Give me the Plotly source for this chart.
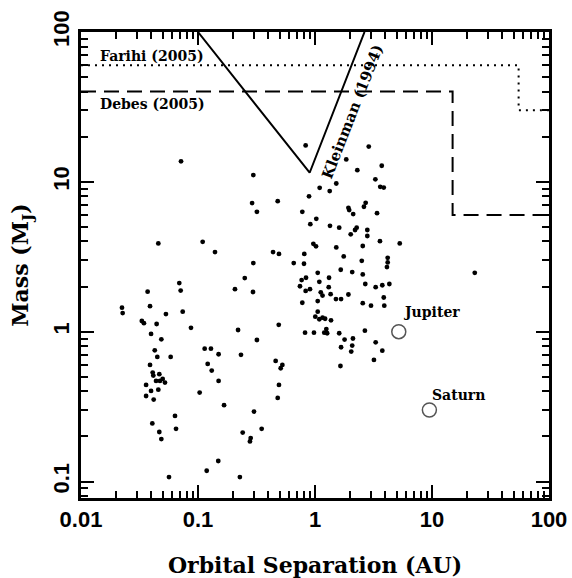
import numpy as np
import plotly.graph_objects as go

# ---- data ----
sep = [0.0716, 0.0458, 0.1096, 0.1397, 0.0692, 0.0371, 0.0711, 0.0224, 0.0389,
       0.0227, 0.0532, 0.0740, 0.0331, 0.0345, 0.0443, 0.0871, 0.0397, 0.0486,
       0.0427, 0.0449, 0.0584, 0.0389, 0.0410, 0.0415, 0.0467, 0.0438, 0.0473,
       0.0499, 0.0522, 0.0360, 0.0458, 0.0397, 0.0360, 0.0418, 0.1033, 0.150,
       0.114, 0.129, 0.121, 0.131, 0.150, 0.167, 0.0636, 0.0649, 0.0407, 0.0467,
       0.0486, 0.149, 0.1187, 0.0565,
       0.832, 1.85, 2.30, 0.297, 1.52, 1.096, 1.336, 0.889, 0.290, 0.480, 0.319,
       0.779, 1.93, 1.96, 2.12, 1.026, 0.912, 1.343, 1.61, 2.27, 2.20, 2.02,
       0.968, 1.02, 1.52, 1.76, 0.438, 0.492, 0.81, 0.297, 0.658, 0.805, 1.66,
       2.08, 0.251, 1.055, 0.769, 0.838, 1.318, 0.744, 1.089, 1.31, 0.906, 0.832,
       0.207, 0.295, 1.12, 1.16, 1.36, 1.51, 1.67, 1.93, 1.055, 0.779,
       0.220, 0.490, 0.319, 0.233, 0.461, 0.526, 0.509, 0.492, 0.480, 0.301,
       0.241, 0.350, 0.282, 0.278, 0.228, 1.055, 1.006, 1.089, 1.16, 1.22, 1.37,
       0.822, 0.98, 1.20, 1.25, 1.27, 1.61, 1.79, 2.11, 1.67, 2.08, 2.04, 1.65,
       2.88, 3.72, 3.28, 3.61, 3.87, 2.71, 2.62, 3.39, 2.80, 2.80, 3.59, 5.30,
       2.56, 2.51, 4.18, 4.18, 4.12, 2.56, 2.69, 3.30, 3.76, 4.32, 3.87, 2.56,
       3.01, 3.91, 23.2,
       2.67, 3.30, 3.76, 3.19]
mass = [13.7, 3.88, 3.98, 3.40, 2.11, 1.85, 1.88, 1.445, 1.48,
        1.33, 1.31, 1.36, 1.18, 1.14, 1.125, 1.06, 0.966, 0.889,
        0.751, 0.678, 0.678, 0.600, 0.533, 0.509, 0.52, 0.469, 0.469,
        0.484, 0.457, 0.441, 0.410, 0.402, 0.372, 0.352, 0.392, 0.707,
        0.770, 0.770, 0.609, 0.550, 0.469, 0.323, 0.274, 0.2245, 0.244, 0.214,
        0.192, 0.137, 0.118, 0.107,
        17.5, 14.1, 11.97, 11.1, 9.75, 9.12, 8.67, 8.0, 7.21, 7.43, 6.31,
        6.31, 6.71, 6.48, 6.09, 5.66, 5.22, 5.09, 4.94, 4.94, 4.77, 4.46,
        3.86, 3.71, 3.65, 3.18, 3.40, 3.30, 3.30, 2.87, 2.87, 2.84, 2.59,
        2.50, 2.28, 2.47, 2.21, 2.29, 2.29, 2.01, 2.15, 1.98, 1.92, 1.87,
        1.92, 1.84, 1.83, 1.74, 1.78, 1.65, 1.65, 1.77, 1.60, 1.56,
        1.026, 1.11, 0.88, 0.70, 0.638, 0.60, 0.570, 0.441, 0.361, 0.293,
        0.212, 0.2245, 0.195, 0.185, 0.107, 1.36, 1.26, 1.21, 1.24, 1.22, 1.19,
        0.985, 0.985, 0.985, 1.04, 0.976, 0.976, 0.885, 0.90, 0.787, 0.807, 0.736, 0.59,
        17.2, 12.8, 10.4, 9.26, 9.16, 7.24, 6.82, 6.18, 4.77, 4.35, 4.02, 3.88,
        3.73, 2.97, 3.11, 2.90, 2.70, 2.41, 2.08, 1.98, 2.04, 2.08, 1.69, 1.55,
        1.49, 1.49, 2.47,
        1.016, 0.849, 0.747, 0.648]

planet_names = ["Jupiter", "Saturn"]
planet_sep = [5.2, 9.5]
planet_mass = [1.0, 0.3]

kleinman_sep = [0.1, 0.9, 2.65]
kleinman_mass = [100, 11.5, 100]
farihi_sep = [0.01, 55, 55, 100]
farihi_mass = [60, 60, 30, 30]
debes_sep = [0.01, 15, 15, 100]
debes_mass = [40, 40, 6, 6]

x_tickvals = [0.01, 0.1, 1, 10, 100]
x_ticktext = ["0.01", "0.1", "1", "10", "100"]
y_tickvals = [0.1, 1, 10, 100]
y_ticktext = ["0.1", "1", "10", "100"]

# ---- figure ----
SERIF = "DejaVu Serif"
SANS = "Liberation Sans"

fig = go.Figure()
fig.add_trace(go.Scatter(x=kleinman_sep, y=kleinman_mass, mode="lines",
                         line=dict(color="black", width=2), showlegend=False))
fig.add_trace(go.Scatter(x=farihi_sep, y=farihi_mass, mode="lines",
                         line=dict(color="black", width=2, dash="2px,5px"), showlegend=False))
fig.add_trace(go.Scatter(x=debes_sep, y=debes_mass, mode="lines",
                         line=dict(color="black", width=2, dash="15px,8px"), showlegend=False))
fig.add_trace(go.Scatter(x=sep, y=mass, mode="markers",
                         marker=dict(size=4.8, color="black"), showlegend=False))
fig.add_trace(go.Scatter(x=planet_sep, y=planet_mass, mode="markers",
                         marker=dict(size=14, color="rgba(0,0,0,0)",
                                     line=dict(color="#555555", width=1.5)),
                         showlegend=False))

lab_font = dict(family=SERIF, size=14, color="black", weight="bold")
ann = [
    dict(x=np.log10(0.0139), y=np.log10(69), text="Farihi (2005)", xanchor="left"),
    dict(x=np.log10(0.0139), y=np.log10(33), text="Debes (2005)", xanchor="left"),
    dict(x=np.log10(2.11), y=np.log10(29.6), text="Kleinman (1994)", xanchor="center",
         textangle=-68.6, font=dict(family=SERIF, size=15, color="black", weight="bold")),
    dict(x=np.log10(planet_sep[0]), y=np.log10(planet_mass[0]), text=planet_names[0],
         xanchor="left", xshift=2, yshift=20),
    dict(x=np.log10(planet_sep[1]), y=np.log10(planet_mass[1]), text=planet_names[1],
         xanchor="left", xshift=1, yshift=15),
]
for a in ann:
    a.setdefault("font", lab_font)
    a.update(xref="x", yref="y", showarrow=False, yanchor="middle")
fig.update_layout(annotations=ann)

def minor_vals(lo, hi):
    v = []
    for e in range(lo, hi):
        for d in range(2, 10):
            v.append(d * 10.0 ** e)
    return v

axis_common = dict(
    type="log", showline=True, linewidth=2.5, linecolor="black", mirror="allticks",
    ticks="inside", ticklen=13, tickwidth=1.5, tickcolor="black",
    showgrid=False, zeroline=False,
    tickfont=dict(family=SANS, size=22, color="black", weight="bold"),
)

fig.update_xaxes(**axis_common, range=[-2, 2], tickmode="array",
                 tickvals=x_tickvals, ticktext=x_ticktext,
                 minor=dict(ticks="inside", ticklen=7, tickwidth=1.5, tickcolor="black",
                            showgrid=False, tickmode="array", tickvals=minor_vals(-2, 2)),
                 title=dict(text="Orbital Separation (AU)", standoff=27,
                            font=dict(family=SERIF, size=22, color="black", weight="bold")))
fig.update_yaxes(**axis_common, range=[np.log10(0.0776), 2], tickmode="array",
                 tickvals=y_tickvals, ticktext=y_ticktext, tickangle=-90,
                 minor=dict(ticks="inside", ticklen=7, tickwidth=1.5, tickcolor="black",
                            showgrid=False, tickmode="array", tickvals=minor_vals(-2, 2)),
                 title=dict(text="Mass (M<sub>J</sub>)", standoff=15,
                            font=dict(family=SERIF, size=22, color="black", weight="bold")))

fig.update_layout(width=572, height=578, margin=dict(l=81, r=23, t=32, b=80, autoexpand=False),
                  paper_bgcolor="white", plot_bgcolor="white", showlegend=False)

fig.write_html("out.html", config={"displayModeBar": False},
               post_script="document.body.style.margin='0';")
